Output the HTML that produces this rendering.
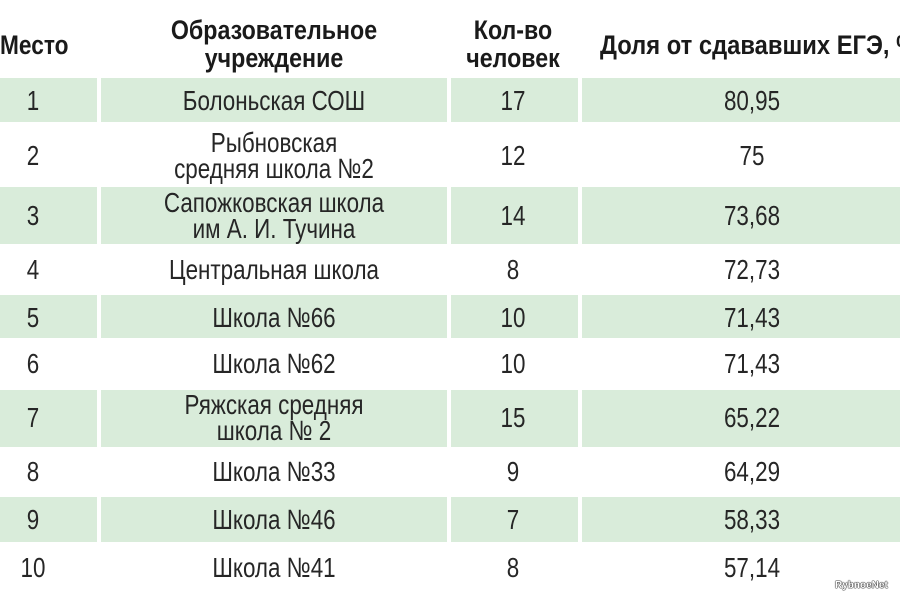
<!DOCTYPE html>
<html><head><meta charset="utf-8"><style>
body{margin:0;width:900px;height:600px;background:#fff;position:relative;overflow:hidden;font-family:"Liberation Sans",sans-serif;color:#262626}
.g{position:absolute;background:#d9ecda}
.t{position:absolute;white-space:nowrap;text-align:center;font-size:28px;line-height:26px;transform:translate(-50%,-50%) scaleX(0.8)}
.h{font-weight:bold;font-size:27px;color:#1a1a1a;line-height:28px}
</style></head><body>
<div class="g" style="left:0;top:78px;width:97px;height:44px"></div>
<div class="g" style="left:101px;top:78px;width:346px;height:44px"></div>
<div class="g" style="left:451px;top:78px;width:127px;height:44px"></div>
<div class="g" style="left:582px;top:78px;width:318px;height:44px"></div>

<div class="g" style="left:0;top:187px;width:97px;height:57px"></div>
<div class="g" style="left:101px;top:187px;width:346px;height:57px"></div>
<div class="g" style="left:451px;top:187px;width:127px;height:57px"></div>
<div class="g" style="left:582px;top:187px;width:318px;height:57px"></div>

<div class="g" style="left:0;top:295px;width:97px;height:43px"></div>
<div class="g" style="left:101px;top:295px;width:346px;height:43px"></div>
<div class="g" style="left:451px;top:295px;width:127px;height:43px"></div>
<div class="g" style="left:582px;top:295px;width:318px;height:43px"></div>

<div class="g" style="left:0;top:390px;width:97px;height:57px"></div>
<div class="g" style="left:101px;top:390px;width:346px;height:57px"></div>
<div class="g" style="left:451px;top:390px;width:127px;height:57px"></div>
<div class="g" style="left:582px;top:390px;width:318px;height:57px"></div>

<div class="g" style="left:0;top:497px;width:97px;height:45px"></div>
<div class="g" style="left:101px;top:497px;width:346px;height:45px"></div>
<div class="g" style="left:451px;top:497px;width:127px;height:45px"></div>
<div class="g" style="left:582px;top:497px;width:318px;height:45px"></div>

<div class="t h" style="left:0;top:31px;transform:scaleX(0.84);transform-origin:0 0;text-align:left">Место</div>
<div class="t h" style="left:274px;top:44px;transform:translate(-50%,-50%) scaleX(0.86)">Образовательное<br>учреждение</div>
<div class="t h" style="left:513px;top:44px;transform:translate(-50%,-50%) scaleX(0.86)">Кол-во<br>человек</div>
<div class="t h" style="left:600px;top:31px;transform:scaleX(0.88);transform-origin:0 0;text-align:left">Доля от сдававших ЕГЭ, %</div>

<div class="t" style="left:33px;top:101px">1</div><div class="t" style="left:274px;top:101px">Болоньская СОШ</div><div class="t" style="left:513px;top:101px">17</div><div class="t" style="left:752px;top:101px">80,95</div>
<div class="t" style="left:33px;top:156px">2</div><div class="t" style="left:274px;top:156px">Рыбновская<br>средняя школа №2</div><div class="t" style="left:513px;top:156px">12</div><div class="t" style="left:752px;top:156px">75</div>
<div class="t" style="left:33px;top:216px">3</div><div class="t" style="left:274px;top:216px">Сапожковская школа<br>им А. И. Тучина</div><div class="t" style="left:513px;top:216px">14</div><div class="t" style="left:752px;top:216px">73,68</div>
<div class="t" style="left:33px;top:270px">4</div><div class="t" style="left:274px;top:270px">Центральная школа</div><div class="t" style="left:513px;top:270px">8</div><div class="t" style="left:752px;top:270px">72,73</div>
<div class="t" style="left:33px;top:318px">5</div><div class="t" style="left:274px;top:318px">Школа №66</div><div class="t" style="left:513px;top:318px">10</div><div class="t" style="left:752px;top:318px">71,43</div>
<div class="t" style="left:33px;top:364px">6</div><div class="t" style="left:274px;top:364px">Школа №62</div><div class="t" style="left:513px;top:364px">10</div><div class="t" style="left:752px;top:364px">71,43</div>
<div class="t" style="left:33px;top:418px">7</div><div class="t" style="left:274px;top:418px">Ряжская средняя<br>школа № 2</div><div class="t" style="left:513px;top:418px">15</div><div class="t" style="left:752px;top:418px">65,22</div>
<div class="t" style="left:33px;top:472px">8</div><div class="t" style="left:274px;top:472px">Школа №33</div><div class="t" style="left:513px;top:472px">9</div><div class="t" style="left:752px;top:472px">64,29</div>
<div class="t" style="left:33px;top:520px">9</div><div class="t" style="left:274px;top:520px">Школа №46</div><div class="t" style="left:513px;top:520px">7</div><div class="t" style="left:752px;top:520px">58,33</div>
<div class="t" style="left:33px;top:568px">10</div><div class="t" style="left:274px;top:568px">Школа №41</div><div class="t" style="left:513px;top:568px">8</div><div class="t" style="left:752px;top:568px">57,14</div>

<div style="position:absolute;left:835px;top:580px;font-size:10px;font-weight:bold;color:#fff;text-shadow:0 0 1px #000,0 0 1px #000,0 0 1px #000">RybnoeNet</div>
</body></html>
